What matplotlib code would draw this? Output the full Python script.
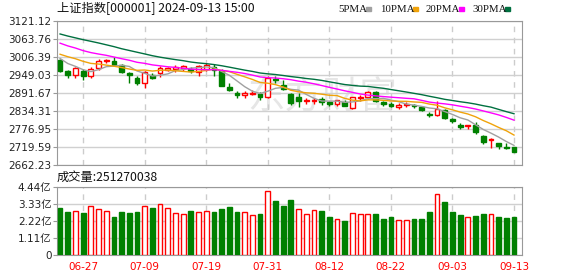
import numpy as np
import pandas as pd
import matplotlib
matplotlib.use('Agg')
import matplotlib.pyplot as plt
from matplotlib.patches import Rectangle

plt.rcParams['font.family'] = ['DejaVu Sans', 'Noto Sans CJK SC']

# 日期 / K线数据 (上证指数, 2024-06-24 ~ 2024-09-13)
dates = ['06-24', '06-25', '06-26', '06-27', '06-28',
         '07-01', '07-02', '07-03', '07-04', '07-05',
         '07-08', '07-09', '07-10', '07-11', '07-12',
         '07-15', '07-16', '07-17', '07-18', '07-19',
         '07-22', '07-23', '07-24', '07-25', '07-26',
         '07-29', '07-30', '07-31', '08-01', '08-02',
         '08-05', '08-06', '08-07', '08-08', '08-09',
         '08-12', '08-13', '08-14', '08-15', '08-16',
         '08-19', '08-20', '08-21', '08-22', '08-23',
         '08-26', '08-27', '08-28', '08-29', '08-30',
         '09-02', '09-03', '09-04', '09-05', '09-06',
         '09-09', '09-10', '09-11', '09-12', '09-13']

opens = [2996, 2962, 2948, 2963, 2946, 2971, 2993, 2995, 2980, 2955,
         2940, 2922, 2950, 2955, 2965, 2968, 2970, 2968, 2960, 2968,
         2976, 2962, 2912, 2892, 2886, 2890, 2888, 2878, 2937, 2918,
         2889, 2880, 2866, 2867, 2873, 2862, 2858, 2864, 2845, 2875,
         2880, 2894, 2862, 2857, 2846, 2852, 2853, 2846, 2826, 2820,
         2836, 2808, 2790, 2785, 2790, 2754, 2741, 2731, 2720, 2718]
highs = [3001, 2966, 2975, 2967, 2975, 2999, 3001, 3005, 2984, 2960,
         2946, 2962, 2955, 2977, 2976, 2981, 2982, 2975, 2980, 2988,
         2985, 2967, 2922, 2898, 2897, 2902, 2894, 2945, 2946, 2932,
         2892, 2891, 2875, 2876, 2879, 2866, 2870, 2868, 2879, 2885,
         2898, 2898, 2866, 2862, 2860, 2862, 2857, 2849, 2830, 2866,
         2840, 2813, 2796, 2791, 2800, 2757, 2749, 2733, 2733, 2720]
lows = [2958, 2940, 2938, 2933, 2941, 2964, 2987, 2979, 2957, 2924,
        2917, 2908, 2935, 2944, 2962, 2960, 2963, 2957, 2945, 2962,
        2945, 2915, 2897, 2876, 2877, 2884, 2869, 2876, 2925, 2900,
        2853, 2847, 2858, 2858, 2855, 2850, 2850, 2849, 2840, 2867,
        2874, 2862, 2850, 2847, 2842, 2846, 2845, 2834, 2815, 2818,
        2810, 2796, 2776, 2776, 2761, 2729, 2717, 2712, 2713, 2703]
closes = [2963.10, 2950.00, 2972.53, 2945.85, 2967.40, 2994.73, 2997.01, 2982.38, 2957.57, 2949.93,
          2922.45, 2959.37, 2939.36, 2970.39, 2971.30, 2974.94, 2976.30, 2962.61, 2977.13, 2982.31,
          2964.22, 2915.37, 2901.95, 2886.43, 2890.90, 2891.85, 2879.30, 2938.75, 2932.39, 2905.34,
          2860.70, 2867.28, 2869.90, 2870.85, 2862.19, 2858.20, 2867.95, 2850.65, 2877.36, 2879.43,
          2893.67, 2866.66, 2856.58, 2848.77, 2854.37, 2855.52, 2848.76, 2837.43, 2823.11, 2842.21,
          2811.04, 2802.98, 2784.28, 2788.22, 2765.81, 2736.49, 2744.19, 2721.80, 2717.12, 2704.09]

# 成交量 (股)
volumes = [3.06e8, 2.80e8, 2.87e8, 2.76e8, 3.19e8, 3.00e8, 2.87e8, 2.48e8, 2.80e8, 2.76e8,
           2.80e8, 3.19e8, 3.06e8, 3.32e8, 3.06e8, 2.74e8, 2.67e8, 2.87e8, 2.80e8, 2.87e8,
           2.80e8, 3.00e8, 3.13e8, 2.80e8, 2.80e8, 2.61e8, 2.67e8, 4.16e8, 3.51e8, 3.19e8,
           3.58e8, 3.00e8, 2.67e8, 2.93e8, 2.87e8, 2.48e8, 2.33e8, 2.22e8, 2.74e8, 2.67e8,
           2.67e8, 2.67e8, 2.35e8, 2.48e8, 2.28e8, 2.28e8, 2.35e8, 2.35e8, 2.80e8, 4.01e8,
           3.45e8, 2.80e8, 2.61e8, 2.48e8, 2.54e8, 2.67e8, 2.67e8, 2.48e8, 2.41e8, 251270038]

# 06-24之前的29个收盘价, 用于均线
prev_closes = [3148.02, 3145.77, 3119.90, 3122.40, 3154.03, 3171.15, 3157.97, 3158.54, 3116.39, 3088.87,
               3124.04, 3109.57, 3111.02, 3091.68, 3086.81, 3078.49, 3091.20, 3065.40, 3048.79, 3051.28,
               3028.05, 3037.47, 3028.92, 3032.63, 3015.89, 3030.25, 3018.05, 2999.00, 2998.10]

price_ticks = [2662.23, 2719.59, 2776.95, 2834.31, 2891.67, 2949.03, 3006.39, 3063.76, 3121.12]
vol_ticks = [0, 1.11e8, 2.22e8, 3.33e8, 4.44e8]
vol_labels = ['0', '1.11亿', '2.22亿', '3.33亿', '4.44亿']
tick_idx = [3, 11, 19, 27, 35, 43, 51, 59]

RED = '#ff0000'
GREEN = '#008000'
ma_colors = {5: '#a0a0a0', 10: '#f0a30a', 20: '#ff00ff', 30: '#007040'}

opens = np.array(opens, dtype=float)
highs = np.array(highs, dtype=float)
lows = np.array(lows, dtype=float)
closes = np.array(closes, dtype=float)
volumes = np.array(volumes, dtype=float)
x = np.arange(len(dates))

all_close = pd.Series(prev_closes + list(closes))
mas = {n: all_close.rolling(n).mean().values[-len(dates):] for n in (5, 10, 20, 30)}

fig = plt.figure(figsize=(5.78, 2.76), dpi=100)
ax = fig.add_axes([57 / 578, 1 - 165 / 276, 465 / 578, 144 / 276])
axv = fig.add_axes([57 / 578, 1 - 255 / 276, 465 / 578, 68 / 276])

for a in (ax, axv):
    a.set_xlim(-0.4, 60.04)
    a.set_xticks(tick_idx)
    a.set_axisbelow(True)
    a.xaxis.grid(True, color='#cccccc', lw=1, ls=(0, (4, 4)))
    a.yaxis.grid(True, color='#d0d0d0', lw=1)
    for s in a.spines.values():
        s.set_color('#999999')
    a.tick_params(axis='y', length=3, color='#999999', labelsize=7.5, labelcolor='#222222', pad=1)
    a.tick_params(axis='x', length=0)

# 水印
ax.text(0.57, 0.47, '东方财富', transform=ax.transAxes, fontsize=27, color='#e6e6e6',
        family=['Noto Sans CJK SC'], ha='center', va='center', zorder=0)

# K线
up = closes >= opens
edge = np.where(up, RED, GREEN)
face = np.where(up, 'white', GREEN)
ax.vlines(x, lows, highs, colors=edge, lw=1, zorder=3)
body_low = np.minimum(opens, closes)
body_h = np.maximum(np.abs(closes - opens), 1.2)
ax.bar(x, body_h, bottom=body_low, width=0.62, color=face, edgecolor=edge, lw=1, zorder=4)

for n in (5, 10, 20, 30):
    ax.plot(x, mas[n], color=ma_colors[n], lw=1, zorder=5)

ax.set_ylim(price_ticks[0], price_ticks[-1])
ax.set_yticks(price_ticks)
ax.set_yticklabels(['%.2f' % v for v in price_ticks])
ax.set_xticklabels([])

# 成交量
ref = np.concatenate([[prev_closes[-1]], closes[:-1]])
vup = closes >= ref
axv.bar(x, volumes, width=0.62, color=np.where(vup, 'white', GREEN),
        edgecolor=np.where(vup, RED, GREEN), lw=1, zorder=3)
axv.set_ylim(0, 4.44e8)
axv.set_yticks(vol_ticks)
axv.set_yticklabels(vol_labels)
axv.set_xticklabels([dates[i] for i in tick_idx], color=RED, fontsize=7.5)
axv.tick_params(axis='x', pad=5)

# 标题和图例
fig.text(57 / 578, 1 - 9 / 276, '上证指数[000001] 2024-09-13 15:00', fontsize=8.8,
         family=['Noto Sans CJK SC'], va='center', ha='left', color='#111111')
fig.text(57 / 578, 1 - 177 / 276, '成交量:%d' % volumes[-1], fontsize=8.8,
         family=['Noto Sans CJK SC'], va='center', ha='left', color='#111111')

legend_items = [('5PMA', 338, 366, 5), ('10PMA', 380, 413, 10),
                ('20PMA', 426, 459, 20), ('30PMA', 472, 505, 30)]
for label, tx, bx, n in legend_items:
    fig.text(tx / 578, 1 - 9.5 / 276, label, fontsize=7.8, family=['Liberation Serif'],
             va='center', ha='left', color='#111111')
    fig.patches.append(Rectangle((bx / 578, 1 - 11 / 276), 5 / 578, 4 / 276,
                                 transform=fig.transFigure, color=ma_colors[n]))

fig.savefig('out.png', dpi=100)
